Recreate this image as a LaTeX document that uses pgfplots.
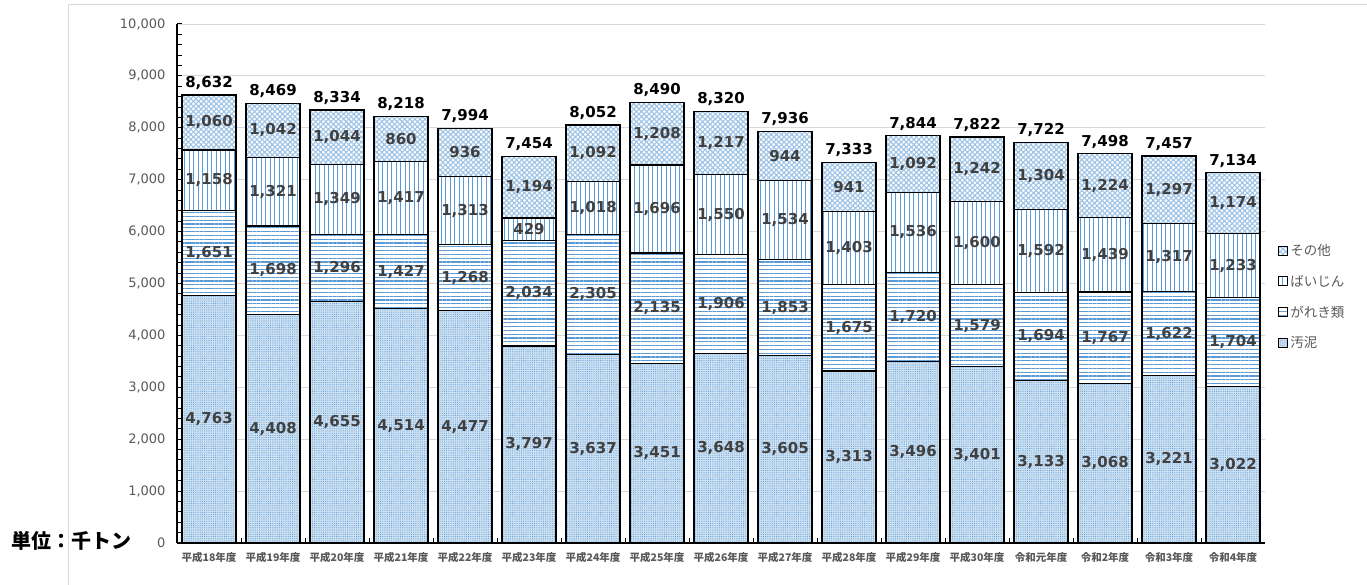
\documentclass[border=0pt]{standalone}
\usepackage{pgfplots}
\pgfplotsset{compat=1.18}
\usepackage{pgfplotstable}
\usetikzlibrary{patterns.meta}
\usepackage{fontspec}
\setmainfont{DejaVu Sans}
\newfontfamily\jp{Noto Sans CJK JP}
\definecolor{pblue}{HTML}{5B9BD5}
\definecolor{lblue}{HTML}{9DC3E6}
\definecolor{tgray}{HTML}{595959}
\definecolor{lgray}{HTML}{404040}
\definecolor{ggray}{HTML}{D9D9D9}

\pgfplotstableread{
x a b c d t
0 4763 1651 1158 1060 8632
1 4408 1698 1321 1042 8469
2 4655 1296 1349 1044 8334
3 4514 1427 1417 860 8218
4 4477 1268 1313 936 7994
5 3797 2034 429 1194 7454
6 3637 2305 1018 1092 8052
7 3451 2135 1696 1208 8490
8 3648 1906 1550 1217 8320
9 3605 1853 1534 944 7936
10 3313 1675 1403 941 7333
11 3496 1720 1536 1092 7844
12 3401 1579 1600 1242 7822
13 3133 1694 1592 1304 7722
14 3068 1767 1439 1224 7498
15 3221 1622 1317 1297 7457
16 3022 1704 1233 1174 7134
}\data
\pgfplotstablecreatecol[create col/expr={\thisrow{a}+\thisrow{b}}]{ab}{\data}
\pgfplotstablecreatecol[create col/expr={\thisrow{ab}+\thisrow{c}}]{abc}{\data}
\pgfplotstablecreatecol[create col/expr={\thisrow{abc}+\thisrow{d}}]{abcd}{\data}
\pgfplotstablecreatecol[create col/expr={\thisrow{a}/2}]{ma}{\data}
\pgfplotstablecreatecol[create col/expr={\thisrow{a}+\thisrow{b}/2}]{mb}{\data}
\pgfplotstablecreatecol[create col/expr={\thisrow{ab}+\thisrow{c}/2}]{mc}{\data}
\pgfplotstablecreatecol[create col/expr={\thisrow{abc}+\thisrow{d}/2}]{md}{\data}

\tikzset{
  sonota/.style={fill=white, postaction={pattern={Hatch[distance=3.6pt, angle=45, line width=1.1pt]}, pattern color=lblue}},
  baijin/.style={fill=white, postaction={pattern={Lines[distance=4.5pt, angle=90, line width=1pt]}, pattern color=pblue}},
  gareki/.style={fill=white, postaction={pattern={Lines[distance=3.8pt, angle=0, line width=1.2pt]}, pattern color=pblue}},
  odei/.style={fill=pblue!30, postaction={pattern={Dots[distance=2.2pt, radius=0.55pt]}, pattern color=pblue}},
}

\begin{document}
\begin{tikzpicture}
\begin{axis}[
  at={(177pt,42pt)}, anchor=south west,
  scale only axis, width=1088pt, height=519pt,
  xmin=-0.5, xmax=16.5, ymin=0, ymax=10000,
  axis x line*=bottom, axis y line*=left,
  axis line style={line width=1.5pt, black},
  tick align=inside,
  major tick length=5pt, minor tick length=5pt,
  ytick={0,1000,...,10000}, minor y tick num=4,
  y tick style={black, line width=1pt},
  ymajorgrids, major grid style={draw=ggray, line width=0.8pt},
  scaled y ticks=false,
  /pgf/number format/1000 sep={,},
  /pgf/number format/assume math mode=true,
  yticklabel style={font=\fontsize{13}{13}\selectfont, text=tgray, xshift=-8pt},
  xtick={0.5,1.5,...,15.5}, xticklabels={},
  x tick style={black, line width=1pt},
  extra x ticks={0,...,16},
  extra x tick labels={平成18年度,平成19年度,平成20年度,平成21年度,平成22年度,平成23年度,平成24年度,平成25年度,平成26年度,平成27年度,平成28年度,平成29年度,平成30年度,令和元年度,令和2年度,令和3年度,令和4年度},
  extra x tick style={major tick length=0pt, xticklabel style={font=\jp\bfseries\fontsize{10.5}{12}\selectfont, text=tgray, yshift=-6pt}},
  legend style={draw=none, fill=none, at={(1.012,0.58)}, anchor=north west, row sep=14pt,
    font=\jp\fontsize{13.5}{13.5}\selectfont, text=tgray, inner sep=0pt},
  legend cell align=left,
  clip=false,
]
\addplot[ybar, bar width=54pt, bar shift=0pt, draw=black, line width=1.2pt, sonota, forget plot] table[x=x, y=abcd] {\data};
\addplot[ybar, bar width=54pt, bar shift=0pt, draw=black, line width=1.2pt, baijin, forget plot] table[x=x, y=abc] {\data};
\addplot[ybar, bar width=54pt, bar shift=0pt, draw=black, line width=1.2pt, gareki, forget plot] table[x=x, y=ab] {\data};
\addplot[ybar, bar width=54pt, bar shift=0pt, draw=black, line width=1.2pt, odei, forget plot] table[x=x, y=a] {\data};

\addplot[only marks, mark=none, nodes near coords, point meta=explicit, forget plot,
  every node near coord/.append style={anchor=center, font=\fontsize{15}{15}\selectfont\bfseries, text=lgray}]
  table[x=x, y=ma, meta=a] {\data};
\addplot[only marks, mark=none, nodes near coords, point meta=explicit, forget plot,
  every node near coord/.append style={anchor=center, font=\fontsize{15}{15}\selectfont\bfseries, text=lgray}]
  table[x=x, y=mb, meta=b] {\data};
\addplot[only marks, mark=none, nodes near coords, point meta=explicit, forget plot,
  every node near coord/.append style={anchor=center, font=\fontsize{15}{15}\selectfont\bfseries, text=lgray}]
  table[x=x, y=mc, meta=c] {\data};
\addplot[only marks, mark=none, nodes near coords, point meta=explicit, forget plot,
  every node near coord/.append style={anchor=center, font=\fontsize{15}{15}\selectfont\bfseries, text=lgray}]
  table[x=x, y=md, meta=d] {\data};
\addplot[only marks, mark=none, nodes near coords, point meta=explicit, forget plot,
  every node near coord/.append style={anchor=south, yshift=2pt, font=\fontsize{15}{15}\selectfont\bfseries, text=black}]
  table[x=x, y=abcd, meta=t] {\data};

\addlegendimage{legend image code/.code={\draw[sonota, draw=black, line width=1pt] (0pt,-4.5pt) rectangle (9pt,4.5pt);}}
\addlegendentry{その他}
\addlegendimage{legend image code/.code={\draw[baijin, draw=black, line width=1pt] (0pt,-4.5pt) rectangle (9pt,4.5pt);}}
\addlegendentry{ばいじん}
\addlegendimage{legend image code/.code={\draw[gareki, draw=black, line width=1pt] (0pt,-4.5pt) rectangle (9pt,4.5pt);}}
\addlegendentry{がれき類}
\addlegendimage{legend image code/.code={\draw[odei, draw=black, line width=1pt] (0pt,-4.5pt) rectangle (9pt,4.5pt);}}
\addlegendentry{汚泥}
\end{axis}
\node[anchor=west, font=\jp\bfseries\fontsize{20}{22}\selectfont] at (8pt,44pt) {単位：千トン};
\draw[ggray, line width=1pt] (68pt,0pt) -- (68pt,580pt) -- (1367pt,580pt);
\pgfresetboundingbox
\useasboundingbox (0pt,0pt) rectangle (1367pt,585pt);
\end{tikzpicture}
\end{document}
